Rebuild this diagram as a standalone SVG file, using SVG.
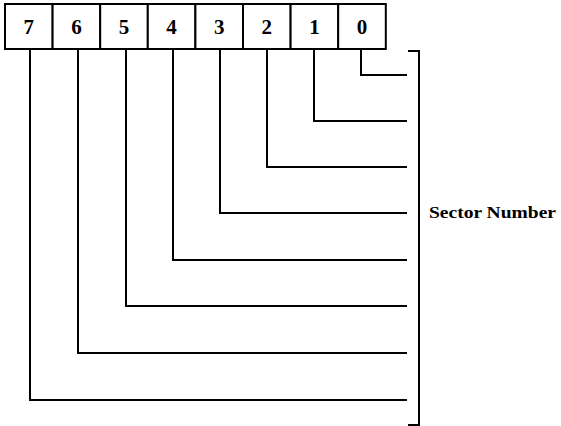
<svg xmlns="http://www.w3.org/2000/svg" width="561" height="426" viewBox="0 0 561 426">
<style>
.cell{fill:#fff;stroke:#000;stroke-width:2}
.dig{font-family:"Liberation Serif",serif;font-weight:bold;font-size:21px;text-anchor:middle}
.ln{fill:none;stroke:#000;stroke-width:2}
.lbl{font-family:"Liberation Serif",serif;font-weight:bold;font-size:17px}
</style>
<rect width="561" height="426" fill="#fff"/>
<g id="register">
<g id="bit7"><rect class="cell" x="5" y="4" width="47.6" height="45"/><text class="dig" x="28.8" y="34">7</text></g>
<g id="bit6"><rect class="cell" x="52.6" y="4" width="47.6" height="45"/><text class="dig" x="76.4" y="34">6</text></g>
<g id="bit5"><rect class="cell" x="100.2" y="4" width="47.6" height="45"/><text class="dig" x="124" y="34">5</text></g>
<g id="bit4"><rect class="cell" x="147.8" y="4" width="47.6" height="45"/><text class="dig" x="171.6" y="34">4</text></g>
<g id="bit3"><rect class="cell" x="195.4" y="4" width="47.6" height="45"/><text class="dig" x="219.2" y="34">3</text></g>
<g id="bit2"><rect class="cell" x="243" y="4" width="47.6" height="45"/><text class="dig" x="266.8" y="34">2</text></g>
<g id="bit1"><rect class="cell" x="290.6" y="4" width="47.6" height="45"/><text class="dig" x="314.4" y="34">1</text></g>
<g id="bit0"><rect class="cell" x="338.2" y="4" width="47.6" height="45"/><text class="dig" x="362" y="34">0</text></g>
</g>
<g id="connectors">
<path class="ln" d="M361 49V75H407"/>
<path class="ln" d="M314 49V121H407"/>
<path class="ln" d="M267 49V167H407"/>
<path class="ln" d="M220 49V213H407"/>
<path class="ln" d="M173 49V260H407"/>
<path class="ln" d="M126 49V306H407"/>
<path class="ln" d="M78 49V353H407"/>
<path class="ln" d="M30 49V400H407"/>
</g>
<g id="bracket">
<path class="ln" d="M408 51H419V425H408"/>
</g>
<g id="label">
<text class="lbl" x="429" y="218" textLength="127" lengthAdjust="spacingAndGlyphs">Sector Number</text>
</g>
</svg>
